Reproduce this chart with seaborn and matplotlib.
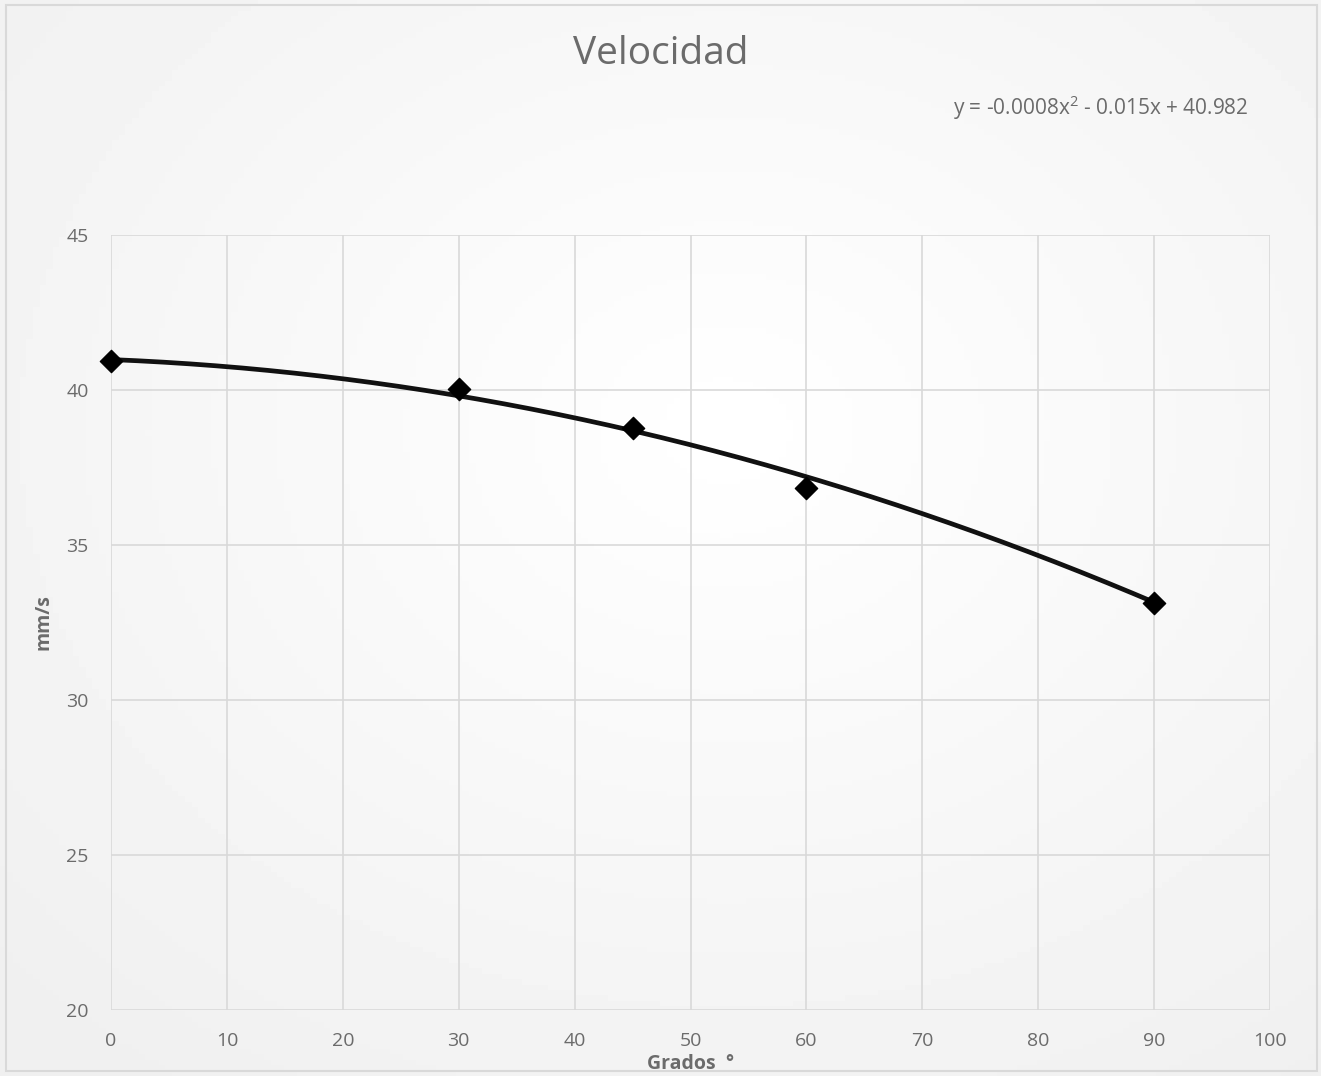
import numpy as np
import pandas as pd
import matplotlib
matplotlib.use("Agg")
import matplotlib.pyplot as plt
import seaborn as sns

# Data
grados = [0, 30, 45, 60, 90]
velocidad = [40.94, 40.03, 38.77, 36.84, 33.13]
# Trendline coefficients (as shown on chart)
coef = [-0.0008, -0.015, 40.982]
x_ticks = [0, 10, 20, 30, 40, 50, 60, 70, 80, 90, 100]
y_ticks = [20, 25, 30, 35, 40, 45]
title = "Velocidad"
equation = "y = -0.0008x$^{2}$ - 0.015x + 40.982"
xlabel = "Grados  °"
ylabel = "mm/s"

sns.set_theme(style="white")
plt.rcParams['font.family'] = ['Open Sans', 'DejaVu Sans']
plt.rcParams['mathtext.fontset'] = 'custom'
plt.rcParams['mathtext.rm'] = 'Open Sans'

TXT = "#6b6b6b"
W, H = 1321, 1076
fig = plt.figure(figsize=(W / 100, H / 100), dpi=100)
fig.patch.set_facecolor("white")

# background gradient
bg = fig.add_axes([0, 0, 1, 1], zorder=-10)
yy, xx = np.mgrid[0:1:200j, 0:1:200j]
r = np.sqrt((xx - 0.55) ** 2 + (yy - 0.6) ** 2)
g = 1.0 - 0.06 * np.clip(r / 0.75, 0, 1)
bg.imshow(g, cmap="gray", vmin=0, vmax=1, extent=[0, 1, 0, 1], aspect="auto", origin="lower")
bg.set_axis_off()
# border
fig.add_artist(plt.Rectangle((6 / W, 1 - 1071 / H), (W - 10) / W, (1066) / H, transform=fig.transFigure,
                             fill=False, edgecolor="#d9d9d9", lw=1.5))

ax = fig.add_axes([111 / W, 1 - 1010 / H, (1270 - 111) / W, (1010 - 235) / H])
ax.patch.set_alpha(0)

df = pd.DataFrame({"Grados": grados, "Velocidad": velocidad})
xs = np.linspace(0, 90, 200)
trend = pd.DataFrame({"x": xs, "y": np.polyval(coef, xs)})

sns.lineplot(data=trend, x="x", y="y", ax=ax, color="#111111", lw=3.4, zorder=3)
sns.scatterplot(data=df, x="Grados", y="Velocidad", ax=ax, marker="D", s=130,
                color="black", edgecolor="black", zorder=4, clip_on=False)

ax.set_xlim(0, 100)
ax.set_ylim(20, 45)
ax.set_xticks(x_ticks)
ax.set_yticks(y_ticks)
ax.grid(True, color="#d9d9d9", lw=1.2)
for s in ax.spines.values():
    s.set_visible(False)
ax.tick_params(axis="both", length=0, labelsize=14, labelcolor=TXT)
ax.tick_params(axis="x", pad=16)
ax.tick_params(axis="y", pad=16)

ax.set_xlabel(xlabel, fontsize=14, fontweight="bold", color=TXT)
ax.set_ylabel(ylabel, fontsize=14, fontweight="bold", color=TXT)
ax.xaxis.set_label_coords((691 - 111) / 1159, -(1054 - 1010) / 775)
ax.yaxis.set_label_coords(-(111 - 53) / 1159, 0.5)

fig.text(661 / W, 1 - 54 / H, title, ha="center", va="center", fontsize=28, color=TXT)
fig.text(1249 / W, 1 - 108 / H, equation, ha="right", va="center", fontsize=15, color=TXT)

fig.savefig("out.png", dpi=100)
